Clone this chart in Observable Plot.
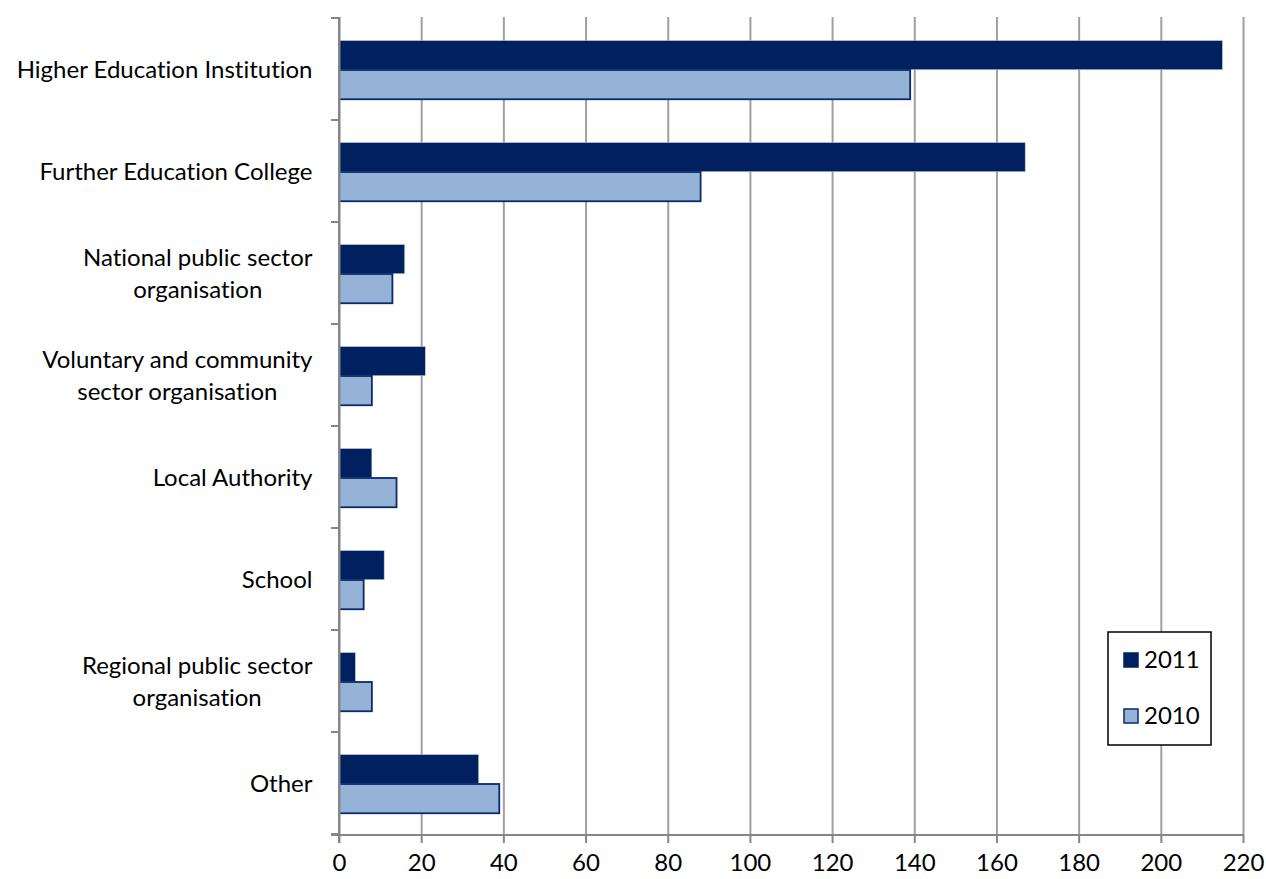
<!DOCTYPE html>
<html>
<head>
<meta charset="utf-8">
<script src="https://cdn.jsdelivr.net/npm/d3@7"></script>
<script src="https://cdn.jsdelivr.net/npm/@observablehq/plot@0.6"></script>
<style>
  html, body { margin: 0; padding: 0; background: #fff; }
  #chart svg { display: block; font-variant-ligatures: none; }
</style>
</head>
<body>
<div id="chart"></div>
<script>
const categories = [
  "Higher Education Institution",
  "Further Education College",
  "National public sector organisation",
  "Voluntary and community sector organisation",
  "Local Authority",
  "School",
  "Regional public sector organisation",
  "Other"
];
const categoryLabels = [
  "Higher Education Institution",
  "Further Education College",
  "National public sector\norganisation",
  "Voluntary and community\nsector organisation",
  "Local Authority",
  "School",
  "Regional public sector\norganisation",
  "Other"
];
const series = ["2011", "2010"];
const values2011 = [215, 167, 16, 21, 8, 11, 4, 34];
const values2010 = [139, 88, 13, 8, 14, 6, 8, 39];
const xTicks = [0, 20, 40, 60, 80, 100, 120, 140, 160, 180, 200, 220];

const rows = [];
categories.forEach((c, i) => {
  rows.push({category: c, series: "2011", value: values2011[i]});
  rows.push({category: c, series: "2010", value: values2010[i]});
});

const W = 1266, H = 879;
const mt = 17, mb = 44, ml = 339, mr = 23;
const bw = (H - mt - mb) / categories.length;
const padTop = 22.5, barH = 29.5;

const font = "Lato, 'Open Sans', sans-serif";
const fs = 24;
const axisColor = "#868686";
const gridColor = "#a0a0a0";

const plot = Plot.plot({
  width: W,
  height: H,
  marginTop: mt,
  marginBottom: mb,
  marginLeft: ml,
  marginRight: mr,
  style: {fontFamily: font, fontSize: fs + "px", color: "#000", background: "#fff"},
  x: {domain: [0, 220], ticks: xTicks},
  y: {domain: categories, paddingInner: 0, paddingOuter: 0},
  marks: [
    Plot.gridX(xTicks.filter(d => d > 0), {stroke: gridColor, strokeOpacity: 1, strokeWidth: 2}),
    Plot.barX(rows.filter(d => d.series === "2011"), {
      x: "value", y: "category",
      fill: "#002060", stroke: "#c8d0e0", strokeWidth: 0.6,
      insetTop: padTop, insetBottom: bw - padTop - barH
    }),
    Plot.barX(rows.filter(d => d.series === "2010"), {
      x: "value", y: "category",
      fill: "#95b3d7", stroke: "#0a2a6a", strokeWidth: 1.8,
      insetTop: padTop + barH, insetBottom: bw - padTop - 2 * barH
    }),
    Plot.axisX({ticks: xTicks, tickSize: 8, tickPadding: 10, stroke: axisColor, strokeWidth: 2, label: null, fontSize: fs}),
    Plot.axisY({
      tickSize: 0, tickPadding: 27, label: null, fontSize: fs, lineHeight: 1.35, dy: -2,
      tickFormat: d => categoryLabels[categories.indexOf(d)]
    }),
    Plot.ruleX([0], {stroke: axisColor, strokeWidth: 2}),
    Plot.ruleY([0], {stroke: axisColor, strokeWidth: 2})
  ]
});

document.getElementById("chart").appendChild(plot);

const svg = d3.select(plot);
const xs = plot.scale("x");
const ys = plot.scale("y");

const x0 = xs.apply(0), x220 = xs.apply(220);
const yBottom = H - mb;
svg.append("line")
  .attr("x1", x0 - 8).attr("x2", x220 + 1)
  .attr("y1", yBottom).attr("y2", yBottom)
  .attr("stroke", axisColor).attr("stroke-width", 2);
svg.append("line")
  .attr("x1", x0).attr("x2", x0)
  .attr("y1", mt).attr("y2", yBottom + 8)
  .attr("stroke", axisColor).attr("stroke-width", 2);
const bounds = categories.map(c => ys.apply(c)).concat([ys.apply(categories[categories.length - 1]) + ys.bandwidth]);
bounds.forEach(b => {
  svg.append("line")
    .attr("x1", x0 - 8).attr("x2", x0)
    .attr("y1", b).attr("y2", b)
    .attr("stroke", axisColor).attr("stroke-width", 2);
});

// center multi-line y labels
svg.selectAll("text").each(function() {
  const tspans = this.querySelectorAll("tspan");
  if (tspans.length > 1) {
    let maxW = 0;
    tspans.forEach(t => { maxW = Math.max(maxW, t.getComputedTextLength()); });
    this.setAttribute("text-anchor", "middle");
    tspans.forEach(t => t.setAttribute("x", -maxW / 2));
  }
});

// legend
const lg = svg.append("g").attr("font-family", font).attr("font-size", fs).attr("text-anchor", "start");
lg.append("rect").attr("x", 1108).attr("y", 632).attr("width", 103).attr("height", 113)
  .attr("fill", "#fff").attr("stroke", "#000").attr("stroke-width", 1.5);
const legendItems = [
  {label: series[0], fill: "#002060", stroke: "#002060", y: 653},
  {label: series[1], fill: "#95b3d7", stroke: "#0a2a6a", y: 709}
];
legendItems.forEach(it => {
  lg.append("rect").attr("x", 1124).attr("y", it.y).attr("width", 14).attr("height", 14)
    .attr("fill", it.fill).attr("stroke", it.stroke).attr("stroke-width", 1.5);
  lg.append("text").attr("x", 1144).attr("y", it.y + 15).attr("text-anchor", "start")
    .text(it.label).attr("fill", "#000");
});
</script>
</body>
</html>
